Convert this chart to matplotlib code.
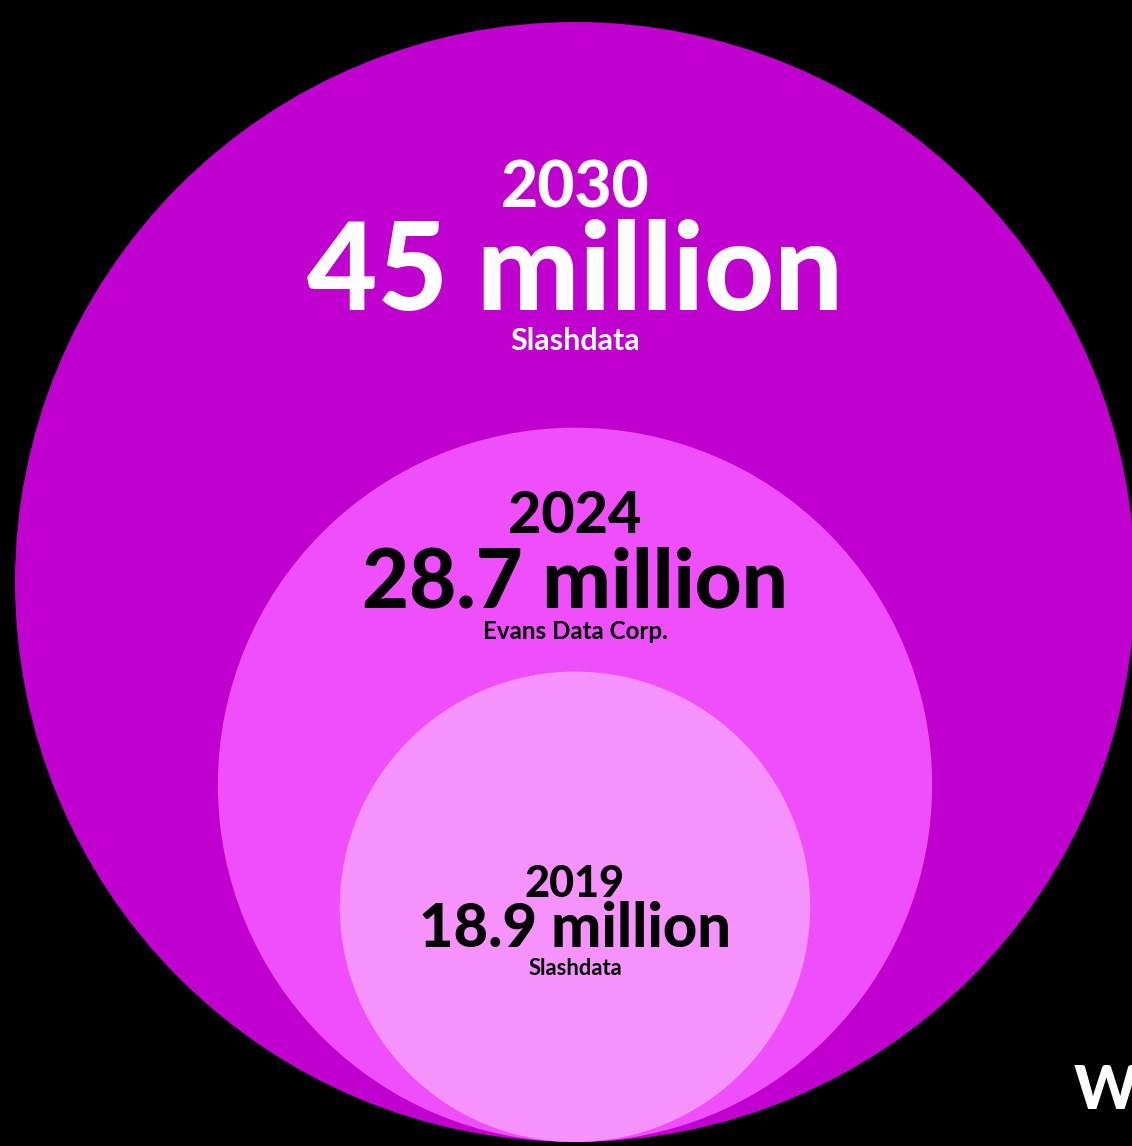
import matplotlib
matplotlib.use("Agg")
import matplotlib.pyplot as plt
from matplotlib.patches import Circle

years = ["2030", "2024", "2019"]
values = [45, 28.7, 18.9]
value_labels = ["45 million", "28.7 million", "18.9 million"]
sources = ["Slashdata", "Evans Data Corp.", "Slashdata"]
colors = ["#C000CF", "#EF4FFB", "#F592FB"]
text_colors = ["white", "black", "black"]

W, H = 1132, 1146
fig = plt.figure(figsize=(W / 100, H / 100), dpi=100, facecolor="black")
ax = fig.add_axes([0, 0, 1, 1])
ax.set_xlim(0, W)
ax.set_ylim(H, 0)
ax.set_aspect("equal")
ax.axis("off")
ax.set_facecolor("black")

cx = 575
bottom = 1142
scale = 560 / 45  # radius per million
for v, c in zip(values, colors):
    r = v * scale
    ax.add_patch(Circle((cx, bottom - r), r, facecolor=c, edgecolor="none"))

FONT = ["Lato", "DejaVu Sans"]
renderer = fig.canvas.get_renderer()

def fit_text(s, x, y, width, color, weight="black"):
    t = ax.text(x, y, s, ha="center", va="baseline", color=color,
                fontsize=40, family=FONT, fontweight=weight)
    bb = t.get_window_extent(renderer=renderer)
    t.set_fontsize(40 * width / bb.width)
    return t

# (year baseline, year width, value baseline, value width, source baseline, source width)
layout = [
    (207, 148, 310, 536, 350, 130),
    (533, 133, 607, 425, 639, 185),
    (897, 100, 947, 312, 975, 94),
]
for yr, vl, src, tc, (yb, yw, vb, vw, sb, sw) in zip(years, value_labels, sources, text_colors, layout):
    fit_text(yr, cx, yb, yw, tc)
    fit_text(vl, cx, vb, vw, tc)
    fit_text(src, cx, sb, sw, tc, weight="bold")

# partial logo at bottom right
ax.text(1074, 1109, "W", ha="left", va="baseline", color="white",
        fontsize=44, family=FONT, fontweight="black", clip_on=True)

fig.savefig("out.png", dpi=100, facecolor="black")
